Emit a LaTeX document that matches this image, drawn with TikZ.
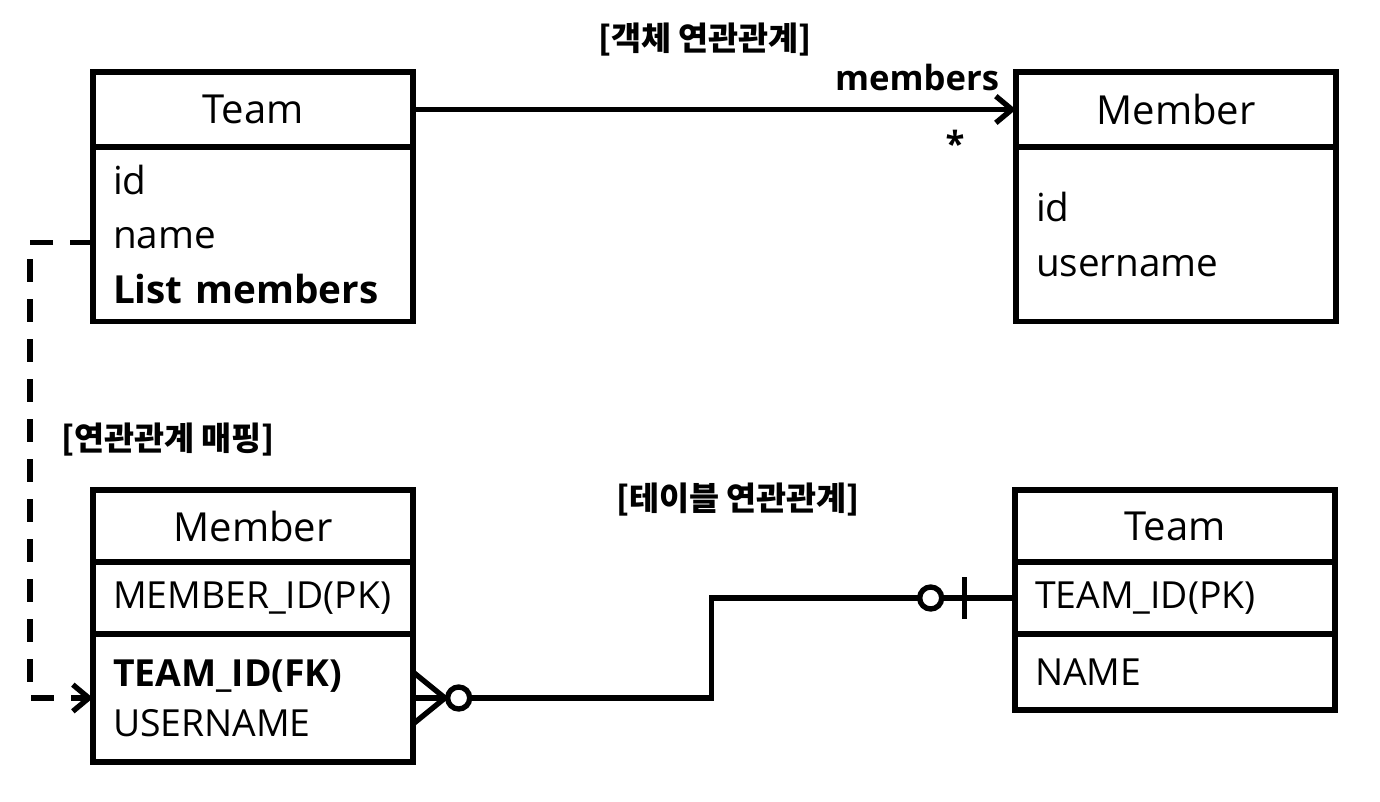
\documentclass[tikz,border=0pt]{standalone}
\usepackage{fontspec}
\setmainfont{Open Sans}
\newfontfamily\krfont{Noto Sans CJK KR}
\usetikzlibrary{arrows.meta,positioning}

\begin{document}
\begin{tikzpicture}[
    x=0.75pt, y=-0.75pt,
    node distance=0pt,
    box/.style={draw, line width=4pt, outer sep=0pt, minimum width=240pt,
                text width=210pt, inner xsep=15pt},
    umlhead/.style={box, align=center, font=\fontsize{30}{36}\selectfont},
    umlrows/.style={box, align=left, font=\fontsize{29}{41}\selectfont},
    dbrows/.style={box, align=left, font=\fontsize{28}{37.5}\selectfont},
    heading/.style={font=\krfont\bfseries\fontsize{24.5}{28}\selectfont},
    multi/.style={font=\bfseries\fontsize{26}{30}\selectfont},
    assoc/.style={line width=4pt, -{Straight Barb[length=12pt,width=20pt]}},
    mapping/.style={line width=4pt, dash pattern=on 17pt off 13pt,
                    -{Straight Barb[length=12pt,width=20pt]}},
    er/.style={line width=4pt},
    ring/.style={circle, draw, line width=4pt, fill=white, minimum size=16.5pt,
                 inner sep=0pt, outer sep=0pt},
]
\useasboundingbox (0,0) rectangle (1380,802);

% Object model
\node[umlhead, minimum height=56.25pt] (teamHead) at (253,109.5) {Team};
\node[umlrows, below=of teamHead, minimum height=131pt] (teamBody)
    {id\\name\\\textbf{List members}};
\node[umlhead, minimum height=56.25pt] (memHead) at (1176,109.5) {Member};
\node[umlrows, below=of memHead, minimum height=131pt] (memBody)
    {id\\username};

% Table model
\node[umlhead, minimum height=54pt] (dbMemHead) at (253,526) {Member};
\node[dbrows, below=of dbMemHead, minimum height=54pt] (dbMemPk) {MEMBER\_ID(PK)};
\node[dbrows, below=of dbMemPk, minimum height=96pt] (dbMemBody)
    {\textbf{TEAM\_ID(FK)}\\USERNAME};
\node[umlhead, minimum height=54pt] (dbTeamHead) at (1175,526) {Team};
\node[dbrows, below=of dbTeamHead, minimum height=54pt] (dbTeamPk) {TEAM\_ID(PK)};
\node[dbrows, below=of dbTeamPk, minimum height=57pt] (dbTeamBody) {NAME};

% Labels
\node[heading] (objLabel) at (705,40) {[객체 연관관계]};
\node[heading] (mapLabel) at (168,440) {[연관관계 매핑]};
\node[heading] (tblLabel) at (738,500) {[테이블 연관관계]};
\node[multi] (roleLabel) at (917,78) {members};
\node[multi] (starLabel) at (955,143) {*};

% Association and mapping
\draw[assoc] (teamHead.east) -- (memHead.west);
\draw[mapping] ([yshift=-6pt]teamBody.west) -- ++(-63,0) |- (dbMemBody.west);

% Crow's foot (many)
\draw[er] ([yshift=19.5pt]dbMemBody.east) -- ([xshift=24pt]dbMemBody.east)
    -- ([yshift=-19.5pt]dbMemBody.east);
\draw[er] (dbMemBody.east) -- ([xshift=24pt]dbMemBody.east);
\node[ring, right=26pt of dbMemBody.east] (manyRing) {};
% Zero or one
\node[ring, left=55pt of dbTeamPk.west] (oneRing) {};
\draw[er] ([xshift=-38pt,yshift=15.75pt]dbTeamPk.west)
    -- ([xshift=-38pt,yshift=-15.75pt]dbTeamPk.west);

\draw[er] (manyRing.east) -- ++(242,0) |- (oneRing.west);
\draw[er] (oneRing.east) -- (dbTeamPk.west);

\end{tikzpicture}
\end{document}
